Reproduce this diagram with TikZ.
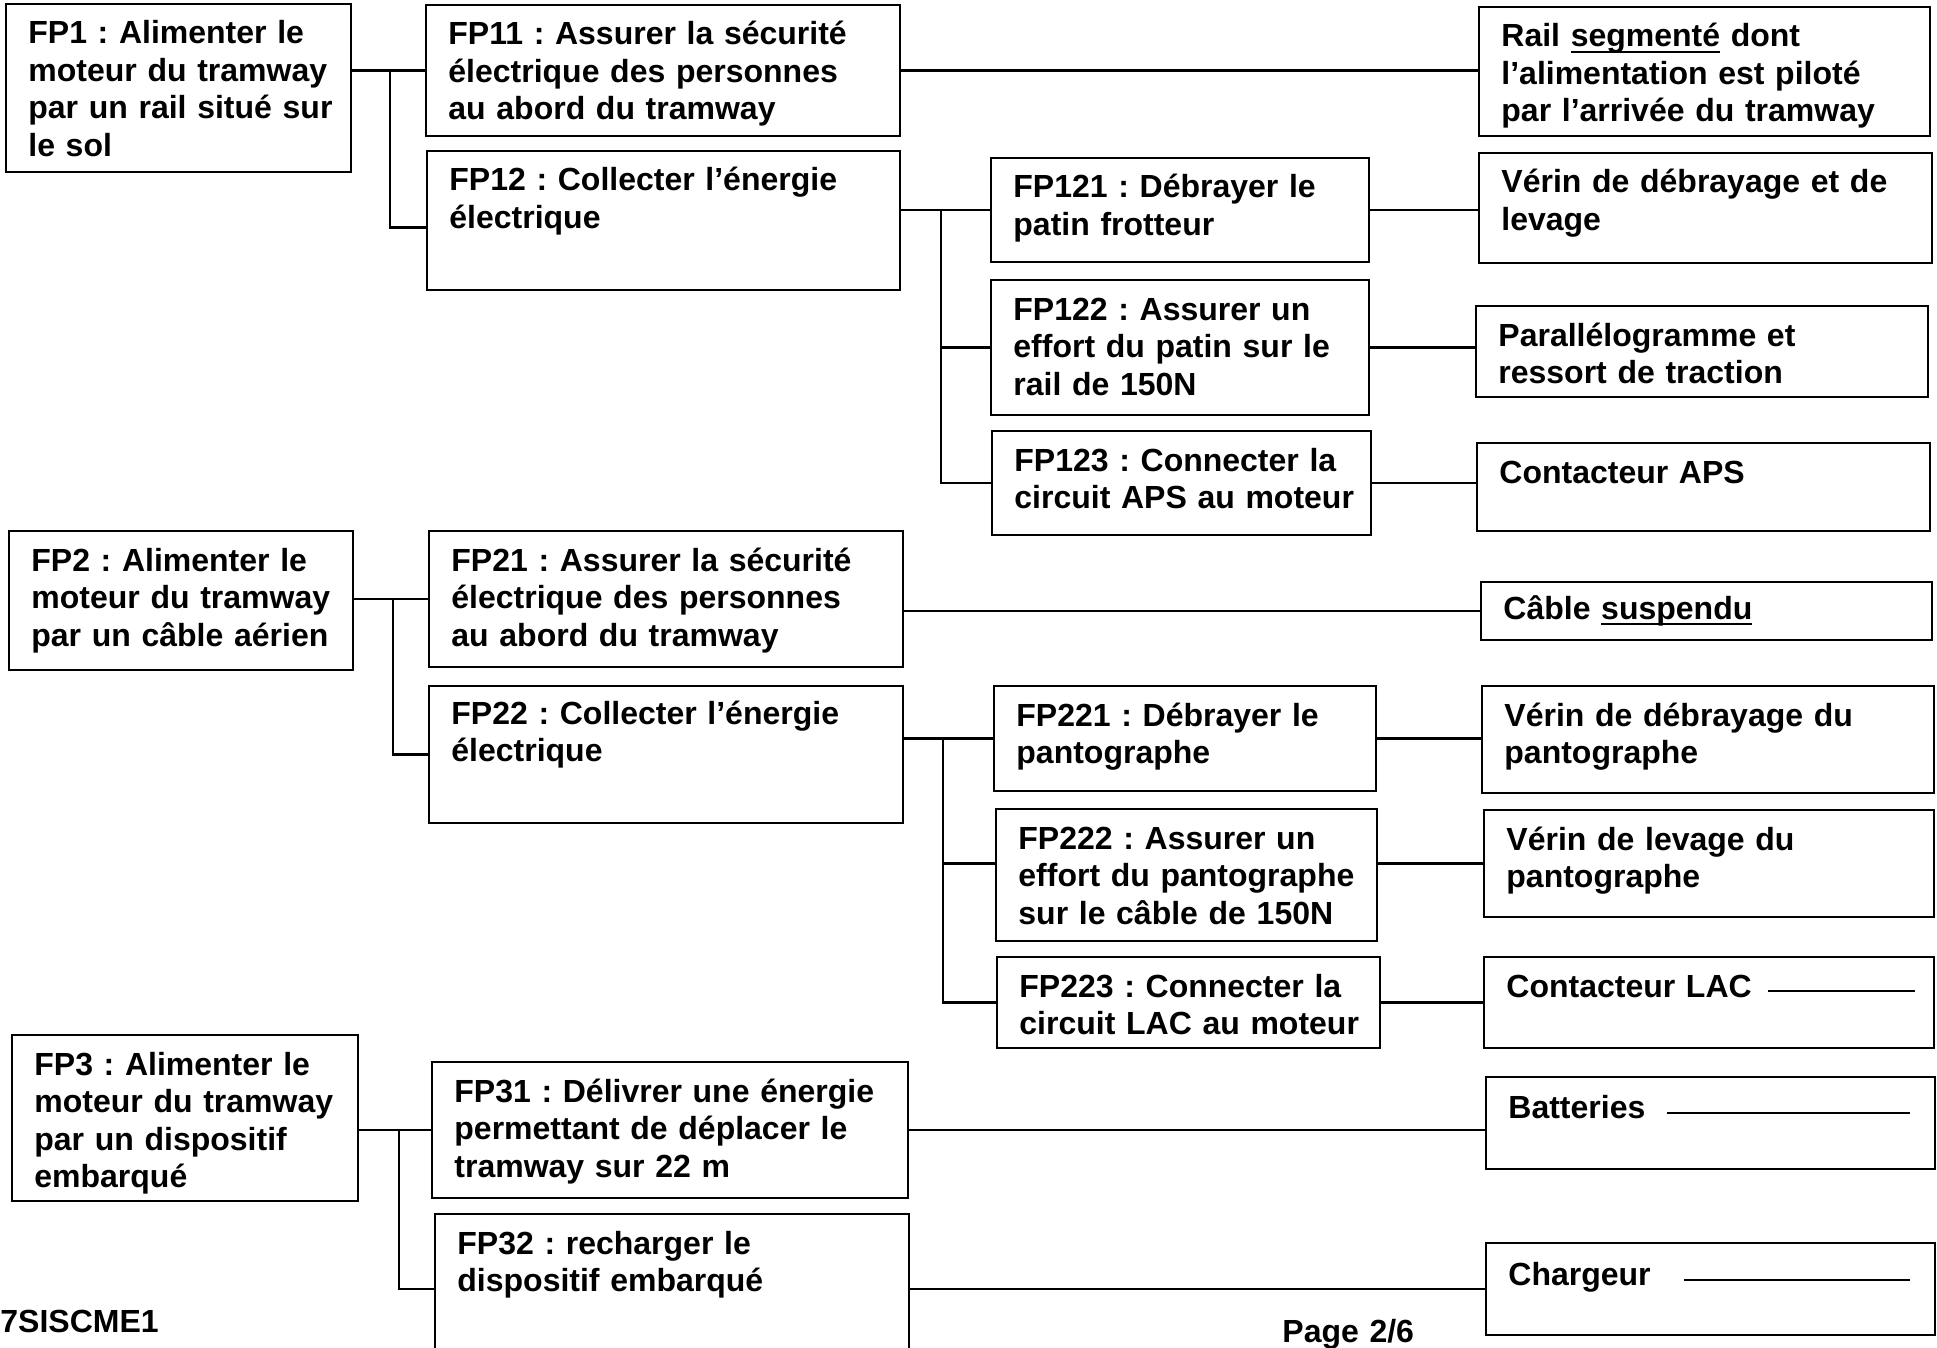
\documentclass[tikz,border=0pt]{standalone}
\usepackage{fontspec}
\setmainfont{Liberation Sans}
\usetikzlibrary{calc}
\frenchspacing
\newcommand\ulbar[1]{\setbox0\hbox{#1}\rlap{\rule[-3pt]{\wd0}{1.1pt}}#1}
\begin{document}
\begin{tikzpicture}[x=0.5pt,y=-0.5pt,
  box/.style={draw, line width=1.4pt, anchor=north west, inner sep=0pt, outer sep=0pt},
  txt/.style={anchor=base west, inner sep=0pt, align=left, text width=260pt, font=\fontsize{16}{18.75}\selectfont\bfseries\frenchspacing},
  conn/.style={line width=1.1pt},
  blank/.style={line width=0.6pt}]
\useasboundingbox (0,0) rectangle (1937,1348);
\fill[white] (0,0) rectangle (1937,1348);
\clip (0,0) rectangle (1937,1348);

% ---------- boxes ----------
\node[box, minimum width=172.5pt, minimum height=84pt]   (fp1)   at (6,4) {};
\node[box, minimum width=237pt,   minimum height=65.5pt] (fp11)  at (426,5) {};
\node[box, minimum width=236.5pt, minimum height=69.5pt] (fp12)  at (427,151) {};
\node[box, minimum width=189pt,   minimum height=52pt]   (fp121) at (991,158) {};
\node[box, minimum width=189pt,   minimum height=67.5pt] (fp122) at (991,280) {};
\node[box, minimum width=189.5pt, minimum height=52pt]   (fp123) at (992,431) {};
\node[box, minimum width=225.5pt, minimum height=64.5pt] (rail)  at (1479,7) {};
\node[box, minimum width=226.5pt, minimum height=55pt]   (verin) at (1479,153) {};
\node[box, minimum width=226pt,   minimum height=45.5pt] (para)  at (1476,306) {};
\node[box, minimum width=226.5pt, minimum height=44pt]   (aps)   at (1477,443) {};

\node[box, minimum width=172pt,   minimum height=69.5pt] (fp2)   at (9,531) {};
\node[box, minimum width=237pt,   minimum height=68pt]   (fp21)  at (429,531) {};
\node[box, minimum width=225.5pt, minimum height=29pt]   (cable) at (1481,582) {};
\node[box, minimum width=237pt,   minimum height=68.5pt] (fp22)  at (429,686) {};
\node[box, minimum width=191pt,   minimum height=52.5pt] (fp221) at (994,686) {};
\node[box, minimum width=190.5pt, minimum height=66pt]   (fp222) at (996,809) {};
\node[box, minimum width=191.5pt, minimum height=45.5pt] (fp223) at (997,957) {};
\node[box, minimum width=226pt,   minimum height=53.5pt] (vdp)   at (1482,686) {};
\node[box, minimum width=225pt,   minimum height=53.5pt] (vlp)   at (1484,810) {};
\node[box, minimum width=225pt,   minimum height=45.5pt] (lac)   at (1484,957) {};

\node[box, minimum width=173pt,   minimum height=83pt]   (fp3)   at (12,1035) {};
\node[box, minimum width=238pt,   minimum height=68pt]   (fp31)  at (432,1062) {};
\node[box, minimum width=237pt,   minimum height=78pt]   (fp32)  at (435,1214) {};
\node[box, minimum width=224.5pt, minimum height=46pt]   (batt)  at (1486,1077) {};
\node[box, minimum width=224.5pt, minimum height=46pt]   (charg) at (1486,1243) {};

% ---------- texts ----------
\node[txt] (fp1t)   at ([shift={(11pt,-20pt)}]fp1.north west)   {FP1 : Alimenter le\\moteur du tramway\\par un rail situé sur\\le sol};
\node[txt] (fp11t)  at ([shift={(11pt,-20pt)}]fp11.north west)  {FP11 : Assurer la sécurité\\électrique des personnes\\au abord du tramway};
\node[txt] (fp12t)  at ([shift={(11pt,-20pt)}]fp12.north west)  {FP12 : Collecter l’énergie\\électrique};
\node[txt] (fp121t) at ([shift={(11pt,-20pt)}]fp121.north west) {FP121 : Débrayer le\\patin frotteur};
\node[txt] (fp122t) at ([shift={(11pt,-20pt)}]fp122.north west) {FP122 : Assurer un\\effort du patin sur le\\rail de 150N};
\node[txt] (fp123t) at ([shift={(11pt,-20pt)}]fp123.north west) {FP123 : Connecter la\\circuit APS au moteur};
\node[txt] (railt)  at ([shift={(11pt,-20pt)}]rail.north west)  {Rail \ulbar{segmenté} dont\\l’alimentation est piloté\\par l’arrivée du tramway};
\node[txt] (verint) at ([shift={(11pt,-20pt)}]verin.north west) {Vérin de débrayage et de\\levage};
\node[txt] (parat)  at ([shift={(11pt,-20pt)}]para.north west)  {Parallélogramme et\\ressort de traction};
\node[txt] (apst)   at ([shift={(11pt,-20pt)}]aps.north west)   {Contacteur APS};

\node[txt] (fp2t)   at ([shift={(11pt,-20pt)}]fp2.north west)   {FP2 : Alimenter le\\moteur du tramway\\par un câble aérien};
\node[txt] (fp21t)  at ([shift={(11pt,-20pt)}]fp21.north west)  {FP21 : Assurer la sécurité\\électrique des personnes\\au abord du tramway};
\node[txt] (cablet) at ([shift={(11pt,-18.5pt)}]cable.north west) {Câble \ulbar{suspendu}};
\node[txt] (fp22t)  at ([shift={(11pt,-19pt)}]fp22.north west)  {FP22 : Collecter l’énergie\\électrique};
\node[txt] (fp221t) at ([shift={(11pt,-20pt)}]fp221.north west) {FP221 : Débrayer le\\pantographe};
\node[txt] (fp222t) at ([shift={(11pt,-20pt)}]fp222.north west) {FP222 : Assurer un\\effort du pantographe\\sur le câble de 150N};
\node[txt] (fp223t) at ([shift={(11pt,-20pt)}]fp223.north west) {FP223 : Connecter la\\circuit LAC au moteur};
\node[txt] (vdpt)   at ([shift={(11pt,-20pt)}]vdp.north west)   {Vérin de débrayage du\\pantographe};
\node[txt] (vlpt)   at ([shift={(11pt,-20pt)}]vlp.north west)   {Vérin de levage du\\pantographe};
\node[txt] (lact)   at ([shift={(11pt,-20pt)}]lac.north west)   {Contacteur LAC};

\node[txt] (fp3t)   at ([shift={(11pt,-20pt)}]fp3.north west)   {FP3 : Alimenter le\\moteur du tramway\\par un dispositif\\embarqué};
\node[txt] (fp31t)  at ([shift={(11pt,-20pt)}]fp31.north west)  {FP31 : Délivrer une énergie\\permettant de déplacer le\\tramway sur 22 m};
\node[txt] (fp32t)  at ([shift={(11pt,-20pt)}]fp32.north west)  {FP32 : recharger le\\dispositif embarqué};
\node[txt] (battt)  at ([shift={(11pt,-20.5pt)}]batt.north west) {Batteries};
\node[txt] (chargt) at ([shift={(11pt,-21pt)}]charg.north west) {Chargeur};

\node[txt] (ref)  at (0,1332)    {7SISCME1};
\node[txt] (page) at (1282,1342) {Page 2/6};

% ---------- connectors ----------
\coordinate (j1) at (390,0);
\draw[conn] (fp1.east |- fp11.west) -- (fp11.west);
\draw[conn] (j1 |- fp11.west) |- ($(fp12.west)+(0,7)$);
\draw[conn] (fp11.east) -- (fp11.east -| rail.west);

\coordinate (j12) at (941,0);
\draw[conn] (fp12.east |- fp121.west) -- (fp121.west);
\draw[conn] (j12 |- fp121.west) |- (fp123.west);
\draw[conn] (j12 |- fp122.west) -- (fp122.west);
\draw[conn] (fp121.east) -- (fp121.east -| verin.west);
\draw[conn] (fp122.east) -- (fp122.east -| para.west);
\draw[conn] (fp123.east) -- (fp123.east -| aps.west);

\coordinate (j2) at (393,0);
\draw[conn] (fp2.east |- fp21.west) -- (fp21.west);
\draw[conn] (j2 |- fp21.west) |- (fp22.west);
\draw[conn] (fp21.east |- cable.west) -- (cable.west);

\coordinate (j22) at (943,0);
\draw[conn] (fp22.east |- fp221.west) -- (fp221.west);
\draw[conn] (j22 |- fp221.west) |- (fp223.west);
\draw[conn] (j22 |- vlp.west) -- (fp222.west |- vlp.west);
\draw[conn] (fp221.east) -- (fp221.east -| vdp.west);
\draw[conn] (fp222.east |- vlp.west) -- (vlp.west);
\draw[conn] (fp223.east) -- (fp223.east -| lac.west);

\coordinate (j3) at (399,0);
\draw[conn] (fp3.east |- fp31.west) -- (fp31.west);
\draw[conn] (j3 |- fp31.west) |- (fp32.west |- charg.west);
\draw[conn] (fp31.east) -- (fp31.east -| batt.west);
\draw[conn] (fp32.east |- charg.west) -- (charg.west);

% ---------- blank answer lines ----------
\draw[blank] ($(lac.north west)+(284,34)$) -- ($(lac.north west)+(431,34)$);
\draw[blank] ($(batt.north west)+(181,36)$) -- ($(batt.north west)+(424,36)$);
\draw[blank] ($(charg.north west)+(198,37)$) -- ($(charg.north west)+(424,37)$);
\end{tikzpicture}
\end{document}
